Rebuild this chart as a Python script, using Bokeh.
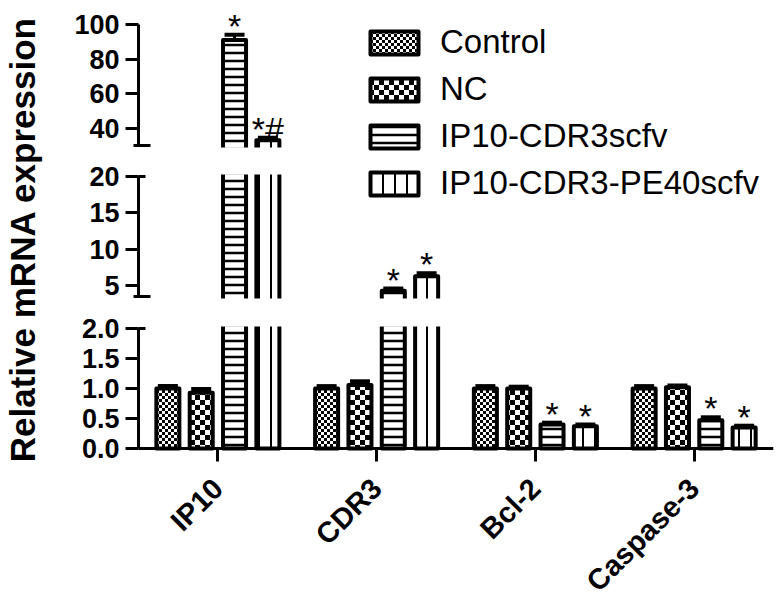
import math
import base64
from bokeh.plotting import figure
from bokeh.models import (ColumnDataSource, Range1d, LinearAxis, FixedTicker,
                          PrintfTickFormatter, BoxAnnotation, Legend, LegendItem, Label,
                          ImageURLTexture)
from bokeh.transform import dodge
from bokeh.core.properties import value
from bokeh.embed import file_html
from bokeh.resources import INLINE

# ---------------- data ----------------
categories = ["IP10", "CDR3", "Bcl-2", "Caspase-3"]
groups = ["Control", "NC", "IP10-CDR3scfv", "IP10-CDR3-PE40scfv"]

control_mean = [1.00, 1.00, 1.00, 1.00]
nc_mean = [0.93, 1.06, 1.00, 1.02]
scfv_mean = [91.0, 4.3, 0.40, 0.47]
pe40_mean = [33.0, 6.3, 0.37, 0.35]

control_err = [0.04, 0.04, 0.04, 0.04]
nc_err = [0.06, 0.06, 0.03, 0.03]
scfv_err = [3.0, 0.3, 0.03, 0.05]
pe40_err = [1.5, 0.4, 0.03, 0.03]

control_sig = ["", "", "", ""]
nc_sig = ["", "", "", ""]
scfv_sig = ["*", "*", "*", "*"]
pe40_sig = ["*#", "*", "*", "*"]

bottom_ticks = [0.0, 0.5, 1.0, 1.5, 2.0]
middle_ticks = [5, 10, 15, 20]
top_ticks = [40, 60, 80, 100]

# broken axis segments (low, high)
bottom_seg = (0.0, 2.0)
middle_seg = (3.5, 20.0)
top_seg = (30.0, 100.0)

# category slots on a numeric x scale (one unit per category)
cat_pos = [i + 0.5 for i in range(len(categories))]

# ---------------- layout ----------------
W, H = 780, 605
AXIS_X, FRAME_RIGHT_PX = 138, 773          # page x of the y axis / frame right edge
FRAME_TOP = 10
FRAME_H = H - FRAME_TOP
# page y of each segment's low / high end
seg_page = {"default": (448, 328), "mid": (296, 176), "top": (145, 24)}
seg_px = {k: (H - a, H - b) for k, (a, b) in seg_page.items()}   # from frame bottom
seg_val = {"default": bottom_seg, "mid": middle_seg, "top": top_seg}

rng, ppu = {}, {}
for rn in ["default", "mid", "top"]:
    lo, hi = seg_val[rn]
    p0, p1 = seg_px[rn]
    k = (p1 - p0) / (hi - lo)
    start = lo - p0 / k
    rng[rn] = Range1d(start, start + FRAME_H / k)
    ppu[rn] = k


def to_data(rn, px):
    return rng[rn].start + px / ppu[rn]


n_cat = len(categories)
x_start = -AXIS_X * n_cat / (FRAME_RIGHT_PX - AXIS_X)

FONT = "Liberation Sans"

p = figure(width=W, height=H, x_range=Range1d(x_start, n_cat), y_range=rng["default"],
           output_backend="svg", toolbar_location=None, y_axis_location=None,
           x_axis_location=None,
           min_border_left=0, min_border_right=W - FRAME_RIGHT_PX,
           min_border_top=FRAME_TOP, min_border_bottom=0)
p.extra_y_ranges = {"mid": rng["mid"], "top": rng["top"]}
p.outline_line_color = None
p.xgrid.visible = False
p.ygrid.visible = False
p.background_fill_color = "white"
p.border_fill_color = "white"


def checker_url(cell, fg="black", bg="white"):
    n = 2 * cell
    svg = (f"<svg xmlns='http://www.w3.org/2000/svg' width='{n}' height='{n}' "
           f"shape-rendering='crispEdges'><rect width='{n}' height='{n}' fill='{bg}'/>"
           f"<rect width='{cell}' height='{cell}' fill='{fg}'/>"
           f"<rect x='{cell}' y='{cell}' width='{cell}' height='{cell}' fill='{fg}'/></svg>")
    return "data:image/svg+xml;base64," + base64.b64encode(svg.encode()).decode()


fine_checker = ImageURLTexture(url=checker_url(3))
coarse_checker = ImageURLTexture(url=checker_url(5))

styles = [
    dict(hatch_pattern=dict(value="fc"), hatch_extra={"fc": fine_checker}),
    dict(hatch_pattern=dict(value="cc"), hatch_extra={"cc": coarse_checker}),
    dict(hatch_pattern="horizontal_line", hatch_scale=8, hatch_weight=2.5, hatch_color="black"),
    dict(hatch_pattern="vertical_line", hatch_scale=12, hatch_weight=2, hatch_color="black"),
]

series = [
    (groups[0], control_mean, control_err, control_sig),
    (groups[1], nc_mean, nc_err, nc_sig),
    (groups[2], scfv_mean, scfv_err, scfv_sig),
    (groups[3], pe40_mean, pe40_err, pe40_sig),
]
offsets = [-0.315, -0.105, 0.105, 0.315]
BAR_W = 0.145
OVER_PX = 8

legend_items = []
for gi, (name, means, errs, sigs) in enumerate(series):
    for rn in ["default", "mid", "top"]:
        lo, hi = seg_val[rn]
        over = OVER_PX / ppu[rn]
        xs, bots, tops = [], [], []
        for x, m in zip(cat_pos, means):
            if rn == "default":
                b = 0.0
            elif m > lo:
                b = lo - over
            else:
                continue
            xs.append(x)
            bots.append(b)
            tops.append(min(m, hi + over))
        if not xs:
            continue
        r = p.vbar(x=dodge("x", offsets[gi]), bottom="bottom", top="top",
                   width=BAR_W, source=ColumnDataSource(dict(x=xs, bottom=bots, top=tops)),
                   y_range_name=rn, fill_color="white", line_color="black", line_width=4,
                   line_join="round", **styles[gi])
        if rn == "default":
            legend_items.append(LegendItem(label=name, renderers=[r]))


def seg_name(m):
    if m > top_seg[0]:
        return "top"
    if m > middle_seg[0]:
        return "mid"
    return "default"


for gi, (name, means, errs, sigs) in enumerate(series):
    by = {}
    for x, m, e, s in zip(cat_pos, means, errs, sigs):
        by.setdefault(seg_name(m), []).append((x, m, e, s))
    for rn, rows in by.items():
        src = ColumnDataSource(dict(x=[r[0] for r in rows], y0=[r[1] for r in rows],
                                    y1=[r[1] + r[2] for r in rows], sig=[r[3] for r in rows]))
        xd = dodge("x", offsets[gi])
        p.segment(x0=xd, y0="y0", x1=xd, y1="y1", source=src, y_range_name=rn,
                  line_color="black", line_width=3)
        p.scatter(x=xd, y="y1", marker="dash", size=20, line_width=4, line_color="black",
                  source=src, y_range_name=rn)
        p.text(x=xd, y="y1", text="sig", source=src, y_range_name=rn, text_align="center",
               text_baseline="alphabetic", y_offset=-9, text_font=value(FONT),
               text_font_size="34px", text_color="black")

# white gaps of the broken axis
p.add_layout(BoxAnnotation(left=0, bottom=to_data("mid", seg_px["default"][1] + 2),
                           top=to_data("mid", seg_px["mid"][0] - 2), y_range_name="mid",
                           fill_color="white", fill_alpha=1, line_color=None))
p.add_layout(BoxAnnotation(left=0, bottom=to_data("top", seg_px["mid"][1] + 2),
                           top=to_data("top", seg_px["top"][0] - 2), y_range_name="top",
                           fill_color="white", fill_alpha=1, line_color=None))


def add_axis(rn, ticks, bounds, tick_in, tick_out, labels, fmt=None, line=True):
    ax = LinearAxis(y_range_name=rn, fixed_location=0,
                    ticker=FixedTicker(ticks=ticks, minor_ticks=[]))
    if bounds is not None:
        ax.bounds = bounds
    ax.axis_line_width = 3
    ax.axis_line_color = "black" if line else None
    ax.major_tick_line_width = 3
    ax.major_tick_line_color = "black"
    ax.major_tick_in = tick_in
    ax.major_tick_out = tick_out
    ax.minor_tick_line_color = None
    ax.major_label_standoff = 6
    ax.major_label_text_font = FONT
    ax.major_label_text_font_size = "27px"
    ax.major_label_text_font_style = "bold"
    ax.major_label_text_color = "black" if labels else None
    if fmt is not None:
        ax.formatter = fmt
    p.add_layout(ax, "left")


add_axis("default", bottom_ticks, bottom_seg, 0, 13, True, PrintfTickFormatter(format="%.1f"))
add_axis("mid", middle_ticks, middle_seg, 0, 13, True)
add_axis("top", top_ticks, top_seg, 0, 13, True)
add_axis("default", [bottom_seg[1]], None, 7, 0, False, line=False)
add_axis("mid", [middle_seg[1]], None, 7, 0, False, line=False)
add_axis("mid", [middle_seg[0]], None, 12, 5, False, line=False)
add_axis("top", [top_seg[0]], None, 12, 5, False, line=False)

xa = LinearAxis(fixed_location=0, ticker=FixedTicker(ticks=cat_pos, minor_ticks=[]))
xa.major_label_overrides = {x: c for x, c in zip(cat_pos, categories)}
xa.bounds = (0, n_cat)
xa.axis_line_width = 3
xa.major_tick_line_width = 3
xa.major_tick_in = 0
xa.major_tick_out = 13
xa.minor_tick_line_color = None
xa.major_label_orientation = math.pi / 4
xa.major_label_standoff = 22
xa.major_label_text_font = FONT
xa.major_label_text_font_size = "29px"
xa.major_label_text_font_style = "bold"
xa.major_label_text_color = "black"
p.add_layout(xa, "below")

p.add_layout(Label(x=22, y=H - 239, x_units="screen", y_units="screen",
                   text="Relative mRNA expression", angle=math.pi / 2, text_align="center",
                   text_baseline="middle", text_font=FONT, text_font_size="35px",
                   text_font_style="bold", text_color="black"))

legend = Legend(items=legend_items, location=(364, H - 202), glyph_width=60, glyph_height=29,
                label_height=38, label_standoff=16, spacing=9, padding=0, margin=0,
                border_line_color=None, background_fill_alpha=0,
                label_text_font=FONT, label_text_font_size="33px", label_text_color="black")
p.add_layout(legend)

open("out.html", "w").write(file_html(p, INLINE))
